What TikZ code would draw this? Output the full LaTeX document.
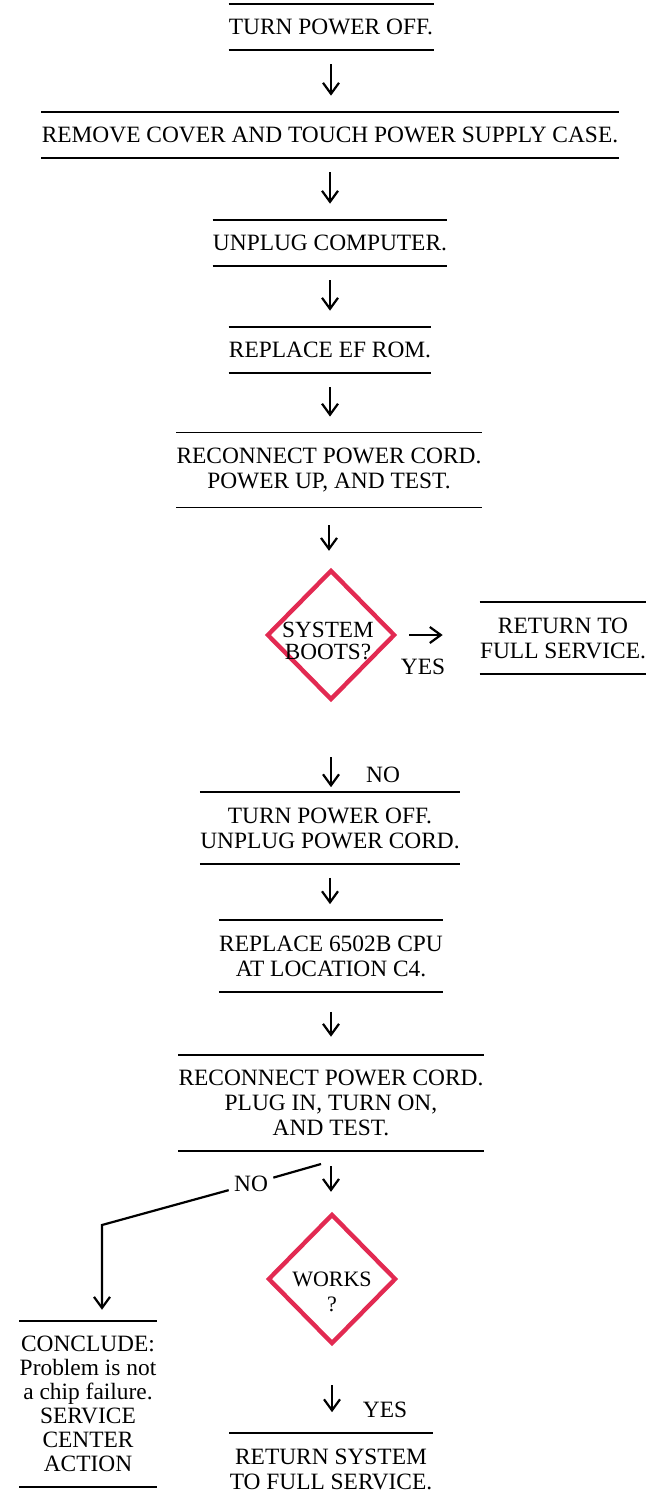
\documentclass[tikz,border=0pt]{standalone}
\usepackage{fontspec}
\setmainfont{Liberation Serif}
\usetikzlibrary{shapes.geometric,arrows.meta}
\definecolor{chipred}{RGB}{226,42,82}
\begin{document}
\begin{tikzpicture}[
x=0.5pt,y=-0.5pt,
font=\fontsize{11.7}{12.5}\selectfont,
stepbox/.style={align=center,inner xsep=0pt,inner ysep=7.5pt},
decision/.style={diamond,draw=chipred,line width=2.2pt,inner sep=0pt,minimum width=64pt,minimum height=65pt},
rule/.style={line width=0.9pt},
flow/.style={-{Straight Barb[length=5.5pt,width=8pt]},line width=1.1pt,shorten <=7pt,shorten >=8pt},
lbl/.style={inner sep=2.5pt}
]
\useasboundingbox (0,0) rectangle (657,1498);

\node[stepbox] (off) at (331,27) {TURN POWER OFF.};
\node[stepbox] (cover) at (330,135) {REMOVE COVER AND TOUCH POWER SUPPLY CASE.};
\node[stepbox] (unplug) at (330,243) {UNPLUG COMPUTER.};
\node[stepbox] (rom) at (330,350) {REPLACE EF ROM.};
\node[stepbox] (test1) at (329,470) {RECONNECT POWER CORD.\\POWER UP, AND TEST.};
\node[decision] (boots) at (331,635) {};
\node[align=center,font=\fontsize{11.6}{11}\selectfont] (bootstxt) at (328,641) {SYSTEM\\BOOTS?};
\node[stepbox] (full) at (563,638) {RETURN TO\\FULL SERVICE.};
\node[stepbox] (off2) at (330,828) {TURN POWER OFF.\\UNPLUG POWER CORD.};
\node[stepbox] (cpu) at (331,956) {REPLACE 6502B CPU\\AT LOCATION C4.};
\node[stepbox] (test2) at (331,1103) {RECONNECT POWER CORD.\\PLUG IN, TURN ON,\\AND TEST.};
\node[decision] (works) at (332,1279) {};
\node[align=center,font=\fontsize{11}{12.5}\selectfont] (workstxt) at (332,1292) {WORKS\\?};
\node[stepbox,font=\fontsize{11.7}{12}\selectfont] (conclude) at (88,1404) {CONCLUDE:\\Problem is not\\a chip failure.\\SERVICE\\CENTER\\ACTION};
\node[stepbox] (full2) at (331,1469) {RETURN SYSTEM\\TO FULL SERVICE.};

% rules above and below the steps
\foreach \n in {off,cover,unplug,rom,test1,full,off2,cpu,test2,conclude}
  \draw[rule] (\n.north west) -- (\n.north east) (\n.south west) -- (\n.south east);
\draw[rule] (full2.north west) -- (full2.north east);

\draw[flow] (off.south) -- (off.south |- cover.north);
\draw[flow] (cover.south) -- (cover.south |- unplug.north);
\draw[flow] (unplug.south) -- (unplug.south |- rom.north);
\draw[flow] (rom.south) -- (rom.south |- test1.north);
\draw[flow,shorten <=9pt,shorten >=8.5pt] (test1.south) -- (test1.south |- boots.north);

\draw[flow,shorten <=6pt,shorten >=18.5pt] (boots.east) -- (boots.east -| full.west);
\node (yes1) at (423,667) {YES};
\draw[flow,shorten <=27.5pt,shorten >=2.5pt] (boots.south) -- (boots.south |- off2.north);
\node (no1) at (383,775) {NO};

\draw[flow] (off2.south) -- (off2.south |- cpu.north);
\draw[flow,shorten <=10pt,shorten >=9pt] (cpu.south) -- (cpu.south |- test2.north);
\draw[flow,shorten <=7.5pt,shorten >=10pt] (test2.south) -- (test2.south |- works.north);

% no branch to the left
\coordinate (nostart) at (321,1164);
\coordinate (bend) at (102,1225);
\node[lbl] (no2) at (251,1184) {NO};
\draw[line width=1.1pt] (nostart) -- (no2);
\draw[flow,shorten <=0pt,shorten >=5.5pt] (no2) -- (bend) -- (bend |- conclude.north);

\draw[flow,shorten <=19.5pt,shorten >=10.5pt] (works.south) -- (works.south |- full2.north);
\node (yes2) at (385,1410) {YES};
\end{tikzpicture}
\end{document}
